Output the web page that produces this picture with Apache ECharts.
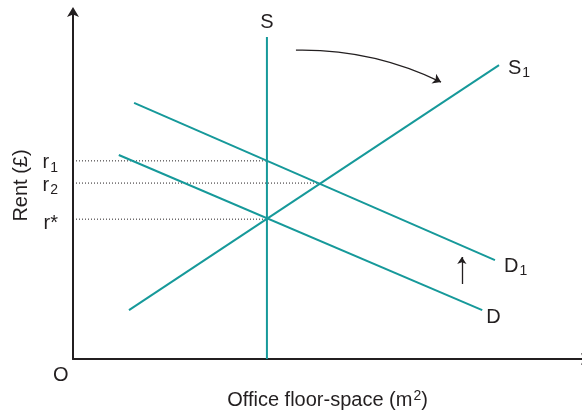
<!DOCTYPE html>
<html>
<head>
<meta charset="utf-8">
<script src="https://cdn.jsdelivr.net/npm/echarts@6/dist/echarts.min.js"></script>
<style>
  html, body { margin: 0; padding: 0; background: #fff; }
  #chart { width: 582px; height: 413px; }
</style>
</head>
<body>
<div id="chart"></div>
<script>
// curve end points (x: floor-space, y: rent, both 0..100)
const supplyS = [[38.1, 0], [38.1, 92.8]];
const supplyS1 = [[11.0, 14.1], [83.7, 84.7]];
const demandD = [[9.0, 58.8], [80.4, 14.1]];
const demandD1 = [[12.0, 73.8], [82.9, 28.5]];

// rent levels and where their dotted guides stop
const rentNames = ['r1', 'r2', 'r*'];
const rentLevels = [57.1, 50.7, 40.3];
const rentStopX = [38.1, 48.3, 38.1];

// the two arrows
const supplyShift = [[43.8, 89.0], [72.3, 79.8]];
const demandShift = [[76.4, 21.6], [76.4, 29.4]];

const TEAL = '#16999a';
const INK = '#231f20';
const FONT = 'Liberation Sans';

const rich = {
  m: { fontSize: 20, color: INK, fontFamily: FONT },
  s: { fontSize: 14, color: INK, fontFamily: FONT, padding: [11, 0, 0, 1] },
  sup: { fontSize: 14, color: INK, fontFamily: FONT, padding: [0, 0, 8, 1] }
};

// one teal curve, label pinned to one of its ends
function curve(pts, text, at, pos, dist, offset) {
  const data = pts.map((p, i) => {
    if (i !== at) return p;
    return {
      value: p,
      label: {
        show: true, position: pos, distance: dist, offset: offset || [0, 0],
        formatter: text, rich: rich
      }
    };
  });
  return {
    type: 'line', data: data, symbolSize: 0, showSymbol: true,
    lineStyle: { color: TEAL, width: 2 }, silent: true, z: 3
  };
}

const series = [
  curve(supplyS, '{m|S}', 1, 'top', 4),
  curve(supplyS1, '{m|S}{s|1}', 1, 'right', 9, [0, 3]),
  curve(demandD1, '{m|D}{s|1}', 1, 'right', 9, [0, 6]),
  curve(demandD, '{m|D}', 1, 'right', 4, [0, 7])
];

// dotted guides from the rent axis
rentLevels.forEach((r, i) => {
  const name = rentNames[i];
  const txt = name === 'r*' ? '{m|r*}' : '{m|r}{s|' + name.slice(1) + '}';
  series.push({
    type: 'line',
    data: [
      { value: [0, r], label: { show: true, position: 'left', distance: 15, offset: [0, name === 'r*' ? 4 : 2], formatter: txt, rich: rich } },
      [rentStopX[i], r]
    ],
    symbolSize: 0, showSymbol: true, silent: true, z: 2,
    lineStyle: { color: INK, width: 1, type: [1, 2] }
  });
});

series.push({
  type: 'lines', coordinateSystem: 'cartesian2d', silent: true, z: 4,
  symbol: ['none', 'arrow'], symbolSize: 8,
  lineStyle: { color: INK, width: 1.3, curveness: 0.12, opacity: 1 },
  data: [{ coords: supplyShift }]
});
series.push({
  type: 'lines', coordinateSystem: 'cartesian2d', silent: true, z: 4,
  symbol: ['none', 'arrow'], symbolSize: 7,
  lineStyle: { color: INK, width: 1.3, opacity: 1 },
  data: [{ coords: demandShift }]
});

function axisLine(endOffset) {
  return {
    show: true, symbol: ['none', 'arrow'], symbolSize: [9, 10],
    symbolOffset: [0, endOffset],
    lineStyle: { color: INK, width: 2 }
  };
}

const chart = echarts.init(document.getElementById('chart'));
chart.setOption({
  animation: false,
  textStyle: { fontFamily: FONT },
  grid: { left: 73, right: 0, top: 12, bottom: 54, outerBoundsMode: 'none', containLabel: false },
  xAxis: {
    type: 'value', min: 0, max: 100,
    axisLine: axisLine(9), axisTick: { show: false }, axisLabel: { show: false },
    splitLine: { show: false },
    name: '{m|Office floor-space (m}{sup|2}{m|)}',
    nameLocation: 'middle', nameGap: 30,
    nameTextStyle: { rich: rich }
  },
  yAxis: {
    type: 'value', min: 0, max: 100,
    axisLine: axisLine(5), axisTick: { show: false }, axisLabel: { show: false },
    splitLine: { show: false },
    name: 'Rent (£)', nameLocation: 'middle', nameRotate: 90, nameGap: 42,
    nameTextStyle: { fontSize: 20, color: INK, fontFamily: FONT }
  },
  graphic: [{
    type: 'text', left: 53, top: 365,
    style: { text: 'O', fontSize: 20, fill: INK, fontFamily: FONT }
  }],
  series: series
});
</script>
</body>
</html>
